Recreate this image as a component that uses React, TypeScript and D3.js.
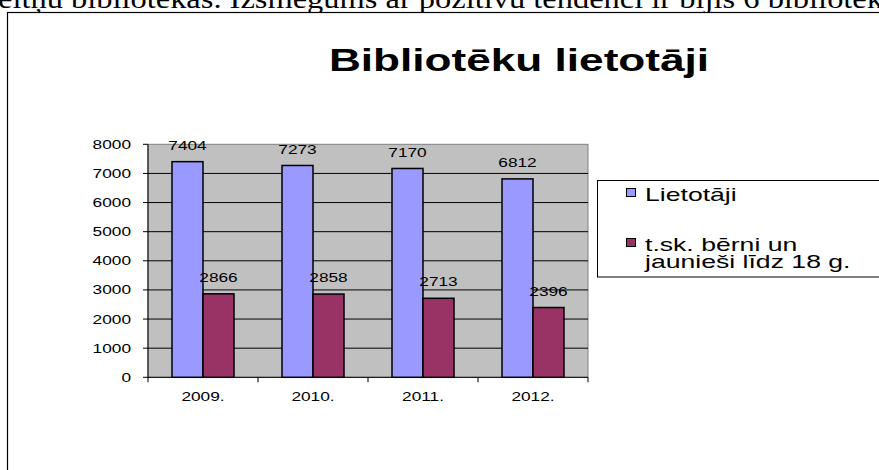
import React from "react";
import * as d3 from "d3";

const categories = ["2009.", "2010.", "2011.", "2012."];
const seriesNames = ["Lietotāji", "t.sk. bērni un jaunieši līdz 18 g."];
const lietotaji = [7404, 7273, 7170, 6812];
const berni = [2866, 2858, 2713, 2396];
const yTicks = [0, 1000, 2000, 3000, 4000, 5000, 6000, 7000, 8000];
const colors = ["#9999FF", "#993366"];
const title = "Bibliotēku lietotāji";
const topText = "eltņu bibliotekas. Izsmegums ar pozitīvu tendenci ir bijis 6 bibliotek";

const SANS = "'Liberation Sans', Arial, sans-serif";
const SX = 1.33;

function SText(props: any) {
  const { x, y, anchor = "start", size = 13, weight = "normal", sx = SX, fill = "#000", children } = props;
  return (
    <text
      transform={`translate(${x},${y}) scale(${sx},1)`}
      textAnchor={anchor}
      fontSize={size}
      fontWeight={weight}
      fontFamily={SANS}
      fill={fill}
    >
      {children}
    </text>
  );
}

export default function App() {
  const W = 879, H = 470;
  const left = 148, right = 588, top = 144.3, bottom = 377.3;
  const x0 = d3.scaleBand<string>().domain(categories).range([left, right]).padding(0);
  const x1 = d3.scaleBand<string>().domain(["a", "b"]).range([0, x0.bandwidth()]).paddingInner(0).paddingOuter(0.774);
  const y = d3.scaleLinear().domain([0, 8000]).range([bottom, top]);
  const series = [lietotaji, berni];
  const keys = ["a", "b"];
  const legendLines = ["t.sk. bērni un", "jaunieši līdz 18 g."];

  return (
    <svg width={W} height={H} style={{ position: "absolute", left: 0, top: 0, background: "#fff" }}>
      <text x={-2} y={7.5} fontSize={27} fontFamily="'Liberation Serif', 'Times New Roman', serif" textLength={885} lengthAdjust="spacingAndGlyphs" fill="#000">
        {topText}
      </text>
      <rect x={7.5} y={12.5} width={900} height={500} fill="#fff" stroke="#000" strokeWidth={1.2} />
      <SText x={519} y={71} anchor="middle" size={32} weight="bold" sx={1.38}>{title}</SText>

      {/* plot area */}
      <rect x={left} y={top} width={right - left} height={bottom - top} fill="#C0C0C0" stroke="#808080" strokeWidth={1} />
      {yTicks.filter(t => t > 0 && t < 8000).map(t => (
        <line key={t} x1={left} x2={right} y1={y(t)} y2={y(t)} stroke="#000" strokeWidth={1} />
      ))}
      {/* y axis */}
      <line x1={left} x2={left} y1={top} y2={bottom} stroke="#000" strokeWidth={1} />
      {yTicks.map(t => (
        <g key={t}>
          <line x1={left - 5} x2={left} y1={y(t)} y2={y(t)} stroke="#000" strokeWidth={1} />
          <SText x={131} y={y(t) + 4.5} anchor="end" size={13}>{t}</SText>
        </g>
      ))}
      {/* x axis */}
      <line x1={left} x2={right} y1={bottom} y2={bottom} stroke="#000" strokeWidth={1} />
      {[...categories.map(c => x0(c) as number), right].map((v, i) => (
        <line key={i} x1={v} x2={v} y1={bottom} y2={bottom + 5} stroke="#000" strokeWidth={1} />
      ))}
      {categories.map(c => (
        <SText key={c} x={(x0(c) as number) + x0.bandwidth() / 2} y={400.5} anchor="middle" size={13}>{c}</SText>
      ))}

      {/* bars */}
      {series.map((vals, si) =>
        vals.map((v, ci) => {
          const bx = (x0(categories[ci]) as number) + (x1(keys[si]) as number);
          return (
            <g key={`${si}-${ci}`}>
              <rect x={bx} y={y(v)} width={x1.bandwidth()} height={bottom - y(v)} fill={colors[si]} stroke="#000" strokeWidth={1.5} />
              <SText x={bx + x1.bandwidth() / 2} y={y(v) - 11.8} anchor="middle" size={13}>{v}</SText>
            </g>
          );
        })
      )}

      {/* legend */}
      <rect x={597.5} y={180.5} width={300} height={96.5} fill="#fff" stroke="#000" strokeWidth={1} />
      <rect x={626.5} y={188.5} width={9} height={8} fill={colors[0]} stroke="#000" strokeWidth={1} />
      <SText x={645} y={200.7} size={19} sx={1.4}>{seriesNames[0]}</SText>
      <rect x={626.5} y={238.5} width={9} height={8} fill={colors[1]} stroke="#000" strokeWidth={1} />
      <SText x={645} y={250.5} size={19} sx={1.4}>{legendLines[0]}</SText>
      <SText x={645} y={267.5} size={19} sx={1.4}>{legendLines[1]}</SText>
    </svg>
  );
}
